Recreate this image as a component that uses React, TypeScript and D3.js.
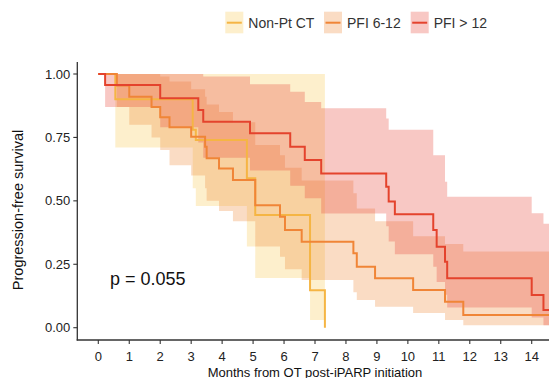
import * as d3 from "d3";
import { useEffect, useRef } from "react";

// Kaplan-Meier steps (months, survival)
const nonPtTime = [0, 0.55, 3.05, 3.15, 4.8, 5.07, 6.84, 7.32];
const nonPtSurv = [1, 0.9, 0.78, 0.74, 0.589, 0.444, 0.148, 0];
const nonPtLower = [1, 0.71, 0.55, 0.48, 0.32, 0.196, 0.03, 0];
const nonPtUpper = [1, 1, 1, 1, 1, 1, 1, 1];

const pfi612Time = [0, 0.6, 1.0, 1.72, 2.0, 2.3, 3.0, 3.45, 3.5, 3.9, 4.35, 5.07, 5.87, 6.03, 6.57, 8.24, 8.35, 8.94, 10.17, 11.2, 11.79];
const pfi612Surv = [1, 0.955, 0.91, 0.87, 0.83, 0.79, 0.753, 0.713, 0.668, 0.628, 0.582, 0.483, 0.437, 0.385, 0.339, 0.293, 0.24, 0.195, 0.149, 0.102, 0.05];
const pfi612Lower = [1, 0.87, 0.8, 0.75, 0.7, 0.64, 0.6, 0.55, 0.5, 0.46, 0.42, 0.32, 0.28, 0.23, 0.188, 0.14, 0.109, 0.083, 0.058, 0.03, 0.01];
const pfi612Upper = [1, 1, 1, 1, 0.99, 0.97, 0.94, 0.91, 0.88, 0.85, 0.81, 0.72, 0.68, 0.63, 0.58, 0.53, 0.47, 0.42, 0.36, 0.33, 0.3];

const pfi12Time = [0, 0.22, 2.0, 3.23, 3.39, 4.9, 6.2, 6.67, 7.2, 9.3, 9.38, 9.58, 10.82, 10.93, 11.2, 11.27, 14.0, 14.38];
const pfi12Surv = [1, 0.957, 0.904, 0.858, 0.812, 0.766, 0.713, 0.661, 0.608, 0.556, 0.497, 0.447, 0.385, 0.319, 0.26, 0.195, 0.129, 0.07];
const pfi12Lower = [1, 0.87, 0.79, 0.73, 0.67, 0.62, 0.56, 0.51, 0.45, 0.4, 0.34, 0.29, 0.24, 0.18, 0.13, 0.08, 0.04, 0.01];
const pfi12Upper = [1, 1, 1, 1, 0.99, 0.96, 0.93, 0.89, 0.865, 0.825, 0.78, 0.78, 0.68, 0.68, 0.575, 0.516, 0.451, 0.41];

const groupNames = ["Non-Pt CT", "PFI 6-12", "PFI > 12"];
const xTicks = d3.range(0, 15);
const yTicks = [0, 0.25, 0.5, 0.75, 1];

const lineColors = ["#F5B544", "#F08537", "#E4432D"];
const fillColors = ["#F7CB55", "#EF8A3A", "#E8483A"];
const fillOpacity = 0.3;

export default function App() {
    const svgRef = useRef<SVGSVGElement>(null);

    useEffect(() => {
        const svg = d3.select(svgRef.current);
        svg.selectAll("*").remove();

        const width = 549;
        const font = "'Liberation Sans', Arial, sans-serif";
        const axisLeft = 77.3;
        const axisBottom = 340;

        const x = d3.scaleLinear().domain([0, 14]).range([98.3, 531.7]);
        const y = d3.scaleLinear().domain([0, 1]).range([327.7, 74]);

        const groups = [
            { time: nonPtTime, surv: nonPtSurv, lower: nonPtLower, upper: nonPtUpper, end: 7.32 },
            { time: pfi612Time, surv: pfi612Surv, lower: pfi612Lower, upper: pfi612Upper, end: 15.5 },
            { time: pfi12Time, surv: pfi12Surv, lower: pfi12Lower, upper: pfi12Upper, end: 15.5 },
        ];

        svg.append("defs").append("clipPath").attr("id", "panel")
            .append("rect")
            .attr("x", axisLeft).attr("y", 60)
            .attr("width", width - axisLeft).attr("height", axisBottom - 60);

        const panel = svg.append("g").attr("clip-path", "url(#panel)");

        // confidence ribbons
        groups.forEach((g, i) => {
            const pts = g.time.map((t, j) => ({ t, lo: g.lower[j], hi: g.upper[j] }));
            const last = pts[pts.length - 1];
            if (g.end > last.t) pts.push({ t: g.end, lo: last.lo, hi: last.hi });
            else pts[pts.length - 1] = { t: last.t, lo: pts[pts.length - 2].lo, hi: pts[pts.length - 2].hi };
            const area = d3.area<any>()
                .curve(d3.curveStepAfter)
                .x(d => x(d.t))
                .y0(d => y(d.lo))
                .y1(d => y(d.hi));
            panel.append("path")
                .datum(pts)
                .attr("fill", fillColors[i])
                .attr("fill-opacity", fillOpacity)
                .attr("d", area);
        });

        // survival curves
        groups.forEach((g, i) => {
            const pts = g.time.map((t, j) => ({ t, s: g.surv[j] }));
            const last = pts[pts.length - 1];
            if (g.end > last.t) pts.push({ t: g.end, s: last.s });
            const line = d3.line<any>()
                .curve(d3.curveStepAfter)
                .x(d => x(d.t))
                .y(d => y(d.s));
            panel.append("path")
                .datum(pts)
                .attr("fill", "none")
                .attr("stroke", lineColors[i])
                .attr("stroke-width", 2)
                .attr("d", line);
        });

        // axes
        const axisColor = "#333";
        svg.append("line")
            .attr("x1", axisLeft).attr("x2", axisLeft)
            .attr("y1", 62).attr("y2", axisBottom + 0.6)
            .attr("stroke", axisColor).attr("stroke-width", 1.3);
        svg.append("line")
            .attr("x1", axisLeft - 0.6).attr("x2", width)
            .attr("y1", axisBottom).attr("y2", axisBottom)
            .attr("stroke", axisColor).attr("stroke-width", 1.3);

        svg.selectAll(".xtick")
            .data(xTicks)
            .enter()
            .append("line")
            .attr("x1", d => x(d)).attr("x2", d => x(d))
            .attr("y1", axisBottom).attr("y2", axisBottom + 4)
            .attr("stroke", axisColor).attr("stroke-width", 1.1);
        svg.selectAll(".xlab")
            .data(xTicks)
            .enter()
            .append("text")
            .attr("x", d => x(d))
            .attr("y", 361)
            .attr("text-anchor", "middle")
            .attr("font-family", font)
            .attr("font-size", 13)
            .attr("fill", "#222")
            .text(d => String(d));

        svg.selectAll(".ytick")
            .data(yTicks)
            .enter()
            .append("line")
            .attr("x1", axisLeft - 4).attr("x2", axisLeft)
            .attr("y1", d => y(d)).attr("y2", d => y(d))
            .attr("stroke", axisColor).attr("stroke-width", 1.1);
        svg.selectAll(".ylab")
            .data(yTicks)
            .enter()
            .append("text")
            .attr("x", axisLeft - 7)
            .attr("y", d => y(d) + 4.6)
            .attr("text-anchor", "end")
            .attr("font-family", font)
            .attr("font-size", 13)
            .attr("fill", "#222")
            .text(d => d.toFixed(2));

        // axis titles
        svg.append("text")
            .attr("x", 315)
            .attr("y", 377)
            .attr("text-anchor", "middle")
            .attr("font-family", font)
            .attr("font-size", 13)
            .attr("fill", "#111")
            .text("Months from OT post-iPARP initiation");
        svg.append("text")
            .attr("transform", "translate(23,210) rotate(-90)")
            .attr("text-anchor", "middle")
            .attr("font-family", font)
            .attr("font-size", 14.5)
            .attr("fill", "#111")
            .text("Progression-free survival");

        // p-value
        svg.append("text")
            .attr("x", 110)
            .attr("y", 285)
            .attr("font-family", font)
            .attr("font-size", 18)
            .attr("fill", "#111")
            .text("p = 0.055");

        // legend
        const keyX = [225.3, 324, 410.7];
        groupNames.forEach((name, i) => {
            const g = svg.append("g").attr("transform", `translate(${keyX[i]},11.7)`);
            g.append("rect")
                .attr("width", 18).attr("height", 21.6)
                .attr("fill", fillColors[i])
                .attr("fill-opacity", fillOpacity);
            g.append("line")
                .attr("x1", 1.5).attr("x2", 16.5)
                .attr("y1", 11).attr("y2", 11)
                .attr("stroke", lineColors[i])
                .attr("stroke-width", 2);
            g.append("text")
                .attr("x", 23)
                .attr("y", 16.8)
                .attr("font-family", font)
                .attr("font-size", 14)
                .attr("fill", "#333")
                .text(name);
        });
    }, []);

    return (
        <svg
            ref={svgRef}
            width={549}
            height={378}
            style={{ position: "absolute", left: 0, top: 0, background: "white" }}
        />
    );
}
